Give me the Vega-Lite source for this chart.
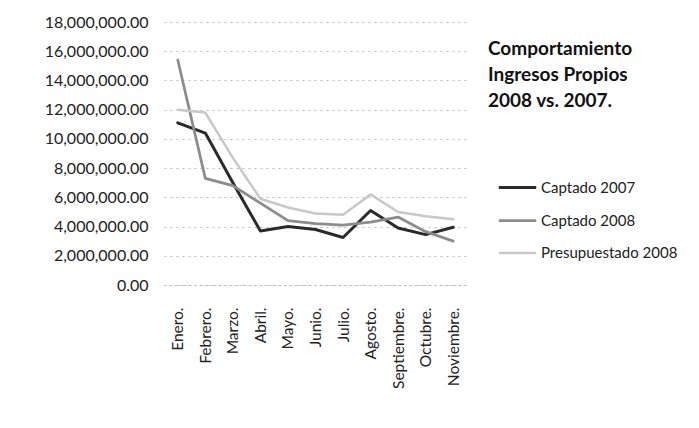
{
  "$schema": "https://vega.github.io/schema/vega-lite/v6.json",
  "autosize": "none",
  "width": 303,
  "height": 263,
  "padding": {"left": 164, "top": 22, "right": 232, "bottom": 143},
  "background": "white",
  "title": {
    "text": ["Comportamiento", "Ingresos Propios", "2008 vs. 2007."],
    "anchor": "start",
    "frame": "group",
    "orient": "top",
    "baseline": "top",
    "offset": 0,
    "dx": 324,
    "dy": 97,
    "font": "Lato",
    "fontSize": 19,
    "fontWeight": "bold",
    "lineHeight": 26,
    "color": "#111"
  },
  "config": {
    "view": {"stroke": null},
    "font": "Lato"
  },
  "data": {
    "values": [
      {"mes": "Enero.", "serie": "Captado 2007", "valor": 11100000},
      {"mes": "Febrero.", "serie": "Captado 2007", "valor": 10400000},
      {"mes": "Marzo.", "serie": "Captado 2007", "valor": 7000000},
      {"mes": "Abril.", "serie": "Captado 2007", "valor": 3700000},
      {"mes": "Mayo.", "serie": "Captado 2007", "valor": 4000000},
      {"mes": "Junio.", "serie": "Captado 2007", "valor": 3800000},
      {"mes": "Julio.", "serie": "Captado 2007", "valor": 3250000},
      {"mes": "Agosto.", "serie": "Captado 2007", "valor": 5100000},
      {"mes": "Septiembre.", "serie": "Captado 2007", "valor": 3900000},
      {"mes": "Octubre.", "serie": "Captado 2007", "valor": 3450000},
      {"mes": "Noviembre.", "serie": "Captado 2007", "valor": 3950000},
      {"mes": "Enero.", "serie": "Captado 2008", "valor": 15400000},
      {"mes": "Febrero.", "serie": "Captado 2008", "valor": 7300000},
      {"mes": "Marzo.", "serie": "Captado 2008", "valor": 6800000},
      {"mes": "Abril.", "serie": "Captado 2008", "valor": 5600000},
      {"mes": "Mayo.", "serie": "Captado 2008", "valor": 4400000},
      {"mes": "Junio.", "serie": "Captado 2008", "valor": 4200000},
      {"mes": "Julio.", "serie": "Captado 2008", "valor": 4100000},
      {"mes": "Agosto.", "serie": "Captado 2008", "valor": 4300000},
      {"mes": "Septiembre.", "serie": "Captado 2008", "valor": 4650000},
      {"mes": "Octubre.", "serie": "Captado 2008", "valor": 3650000},
      {"mes": "Noviembre.", "serie": "Captado 2008", "valor": 3000000},
      {"mes": "Enero.", "serie": "Presupuestado 2008", "valor": 12000000},
      {"mes": "Febrero.", "serie": "Presupuestado 2008", "valor": 11800000},
      {"mes": "Marzo.", "serie": "Presupuestado 2008", "valor": 8700000},
      {"mes": "Abril.", "serie": "Presupuestado 2008", "valor": 5900000},
      {"mes": "Mayo.", "serie": "Presupuestado 2008", "valor": 5300000},
      {"mes": "Junio.", "serie": "Presupuestado 2008", "valor": 4900000},
      {"mes": "Julio.", "serie": "Presupuestado 2008", "valor": 4800000},
      {"mes": "Agosto.", "serie": "Presupuestado 2008", "valor": 6200000},
      {"mes": "Septiembre.", "serie": "Presupuestado 2008", "valor": 5000000},
      {"mes": "Octubre.", "serie": "Presupuestado 2008", "valor": 4700000},
      {"mes": "Noviembre.", "serie": "Presupuestado 2008", "valor": 4500000}
    ]
  },
  "mark": {"type": "line", "strokeCap": "round", "strokeJoin": "round"},
  "encoding": {
    "x": {
      "field": "mes",
      "type": "ordinal",
      "sort": ["Enero.", "Febrero.", "Marzo.", "Abril.", "Mayo.", "Junio.", "Julio.", "Agosto.", "Septiembre.", "Octubre.", "Noviembre."],
      "scale": {"type": "point", "padding": 0.5},
      "axis": {
        "title": null,
        "labelAngle": -90,
        "labelAlign": "right",
        "labelBaseline": "middle",
        "labelPadding": 22,
        "labelFontSize": 15.5,
        "labelColor": "#222",
        "ticks": false,
        "domainColor": "#bbb",
        "domainDash": [2, 3],
        "grid": false
      }
    },
    "y": {
      "field": "valor",
      "type": "quantitative",
      "scale": {"domain": [0, 18000000], "nice": false},
      "axis": {
        "title": null,
        "values": [0, 2000000, 4000000, 6000000, 8000000, 10000000, 12000000, 14000000, 16000000, 18000000],
        "format": ",.2f",
        "labelFontSize": 16,
        "labelColor": "#222",
        "labelPadding": 16,
        "ticks": false,
        "domain": false,
        "grid": true,
        "gridColor": "#bbb",
        "gridDash": [2, 4],
        "gridWidth": 1
      }
    },
    "color": {
      "field": "serie",
      "type": "nominal",
      "scale": {
        "domain": ["Captado 2007", "Captado 2008", "Presupuestado 2008"],
        "range": ["#2a2a2a", "#8c8c8c", "#c8c8c8"]
      },
      "legend": {
        "title": null,
        "orient": "none",
        "legendX": 333,
        "legendY": 145,
        "symbolType": "stroke",
        "symbolSize": 1400,
        "symbolStrokeWidth": 2.5,
        "labelFontSize": 15,
        "labelColor": "#222",
        "labelOffset": 3,
        "rowPadding": 4
      }
    },
    "strokeWidth": {
      "field": "serie",
      "type": "nominal",
      "scale": {
        "domain": ["Captado 2007", "Captado 2008", "Presupuestado 2008"],
        "range": [3, 2.5, 2]
      },
      "legend": null
    }
  }
}
